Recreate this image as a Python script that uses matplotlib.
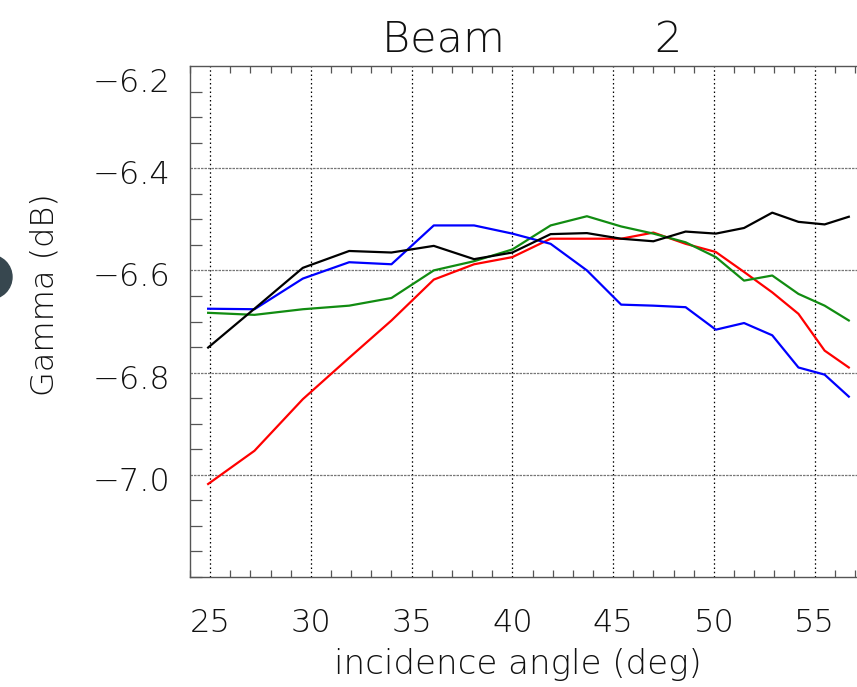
import matplotlib
matplotlib.use("Agg")
import matplotlib.pyplot as plt
import matplotlib.transforms as mtransforms
from matplotlib.patches import Ellipse
from matplotlib.ticker import MultipleLocator


# incidence angle of each sample (deg)
angle = [24.9, 27.2, 29.6, 31.9, 34.0, 36.1, 38.1, 40.0, 41.9, 43.7,
         45.4, 47.0, 48.6, 50.1, 51.5, 52.9, 54.2, 55.5, 56.7]

gamma_black = [-6.751, -6.675, -6.595, -6.562, -6.565, -6.552, -6.578, -6.565, -6.529, -6.527,
               -6.538, -6.543, -6.524, -6.528, -6.517, -6.487, -6.505, -6.510, -6.495]
gamma_blue = [-6.675, -6.676, -6.616, -6.584, -6.588, -6.512, -6.512, -6.528, -6.548, -6.600,
              -6.667, -6.669, -6.672, -6.716, -6.703, -6.727, -6.790, -6.804, -6.847]
gamma_green = [-6.683, -6.687, -6.676, -6.669, -6.654, -6.600, -6.582, -6.559, -6.512, -6.494,
               -6.514, -6.528, -6.545, -6.574, -6.620, -6.610, -6.646, -6.669, -6.698]
gamma_red = [-7.018, -6.953, -6.852, -6.771, -6.698, -6.618, -6.588, -6.574, -6.538, -6.538,
             -6.538, -6.526, -6.548, -6.564, -6.603, -6.643, -6.685, -6.757, -6.790]

series = [
    (gamma_red, "#ff0000"),
    (gamma_green, "#118c11"),
    (gamma_blue, "#0000ff"),
    (gamma_black, "#000000"),
]

x_major = [25, 30, 35, 40, 45, 50, 55]
y_major = [-7.0, -6.8, -6.6, -6.4, -6.2]
y_grid = [-7.0, -6.8, -6.6, -6.4]

FONT = dict(family="DejaVu Sans", weight="light")
TEXT = "#111111"

fig = plt.figure(figsize=(8.57, 6.87), dpi=100)
ax = fig.add_axes([190 / 857, 110 / 687, 685 / 857, 511 / 687])

for values, color in series:
    ax.plot(angle, values, color=color, lw=1.6, solid_joinstyle="round", zorder=3)

ax.set_xlim(24, 58)
ax.set_ylim(-7.2, -6.2)

for x in x_major:
    ax.axvline(x, color="black", lw=0.9, ls=(0, (1.2, 2.2)), zorder=1)
for y in y_grid:
    ax.axhline(y, color="#777777", lw=0.9, ls=(0, (2.0, 0.8)), zorder=1)

ax.set_xticks(x_major)
ax.set_xticklabels([f"{v:d}" for v in x_major], fontsize=23, **FONT)
ax.xaxis.set_minor_locator(MultipleLocator(1))
ax.set_yticks(y_major)
ax.set_yticklabels([f"\u2212{abs(v):.1f}" for v in y_major], fontsize=23, **FONT)
ax.yaxis.set_minor_locator(MultipleLocator(0.05))

ax.tick_params(axis="both", which="major", length=0, pad=14, colors=TEXT)
ax.tick_params(axis="x", which="major", pad=22)
ax.tick_params(axis="x", which="minor", direction="in", top=True, bottom=True,
               length=5, width=0.9, color="#555555")
ax.tick_params(axis="y", which="minor", direction="in", left=True, right=False,
               length=8.5, width=0.9, color="#555555")

# IDL-style labels sit a little below their tick
for lab, v in zip(ax.get_yticklabels(), y_major):
    dy = 14 if v == -6.2 else 4
    lab.set_transform(lab.get_transform()
                      + mtransforms.ScaledTranslation(0, -dy / 100, fig.dpi_scale_trans))

for side in ("left", "bottom", "top"):
    ax.spines[side].set_color("#555555")
    ax.spines[side].set_linewidth(1.0)
ax.spines["right"].set_visible(False)

ax.set_title("Beam           2", fontsize=31, pad=10, color=TEXT, **FONT)
ax.set_xlabel("incidence angle (deg)", fontsize=24.5, color=TEXT, va="center", **FONT)
ax.xaxis.set_label_coords(0.479, -0.172)
ax.set_ylabel("Gamma (dB)", fontsize=23, color=TEXT, va="center", **FONT)
ax.yaxis.set_label_coords(-0.212, 0.552)

# partly visible round marker at the left edge of the screenshot
fig.patches.append(Ellipse((-10 / 857, 1 - 277 / 687), 44 / 857, 44 / 687,
                           transform=fig.transFigure, color="#37474f", zorder=5))

fig.savefig("out.png", dpi=100)
